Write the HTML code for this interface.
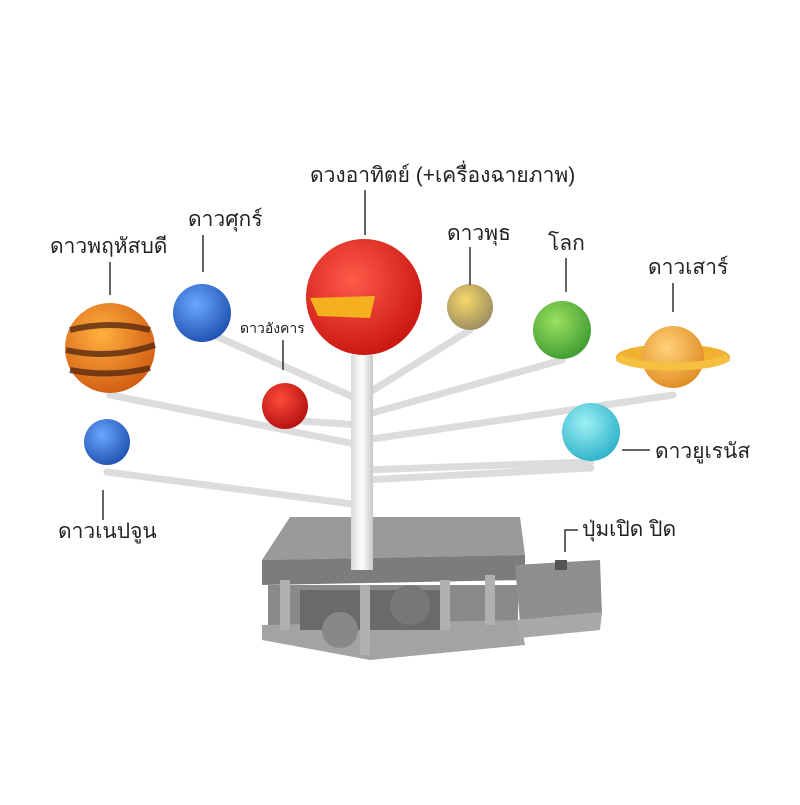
<!DOCTYPE html>
<html><head><meta charset="utf-8"><style>
html,body{margin:0;padding:0;background:#fff;}
svg text{font-family:"Liberation Sans","DejaVu Sans",sans-serif;fill:#222;}
</style></head><body>
<svg width="800" height="800" viewBox="0 0 800 800" xmlns="http://www.w3.org/2000/svg">
<defs>
<radialGradient id="sun" cx="40%" cy="35%" r="70%"><stop offset="0" stop-color="#ff5a4a"/><stop offset="1" stop-color="#c8140e"/></radialGradient>
<radialGradient id="blue" cx="40%" cy="35%" r="70%"><stop offset="0" stop-color="#6aa8ff"/><stop offset="1" stop-color="#1d4fb0"/></radialGradient>
<radialGradient id="red" cx="40%" cy="35%" r="70%"><stop offset="0" stop-color="#ff4a3a"/><stop offset="1" stop-color="#b20f0f"/></radialGradient>
<radialGradient id="merc" cx="40%" cy="35%" r="70%"><stop offset="0" stop-color="#f5d76a"/><stop offset="1" stop-color="#9a8a60"/></radialGradient>
<radialGradient id="earth" cx="40%" cy="35%" r="70%"><stop offset="0" stop-color="#9be060"/><stop offset="1" stop-color="#3c9a30"/></radialGradient>
<radialGradient id="sat" cx="40%" cy="35%" r="70%"><stop offset="0" stop-color="#ffd27a"/><stop offset="1" stop-color="#e08a20"/></radialGradient>
<radialGradient id="ura" cx="40%" cy="35%" r="70%"><stop offset="0" stop-color="#9ef0f5"/><stop offset="1" stop-color="#2ab0c8"/></radialGradient>
<radialGradient id="jup" cx="40%" cy="35%" r="70%"><stop offset="0" stop-color="#ffb040"/><stop offset="1" stop-color="#d05a10"/></radialGradient>
<linearGradient id="rod" x1="0" x2="1"><stop offset="0" stop-color="#d8d8d8"/><stop offset=".5" stop-color="#fff"/><stop offset="1" stop-color="#c8c8c8"/></linearGradient>
</defs>
<!-- base -->
<polygon points="290,517 520,517 525,555 262,560" fill="#9a9a9a"/>
<polygon points="262,560 525,555 525,580 262,585" fill="#7c7c7c"/>
<rect x="268" y="585" width="250" height="50" fill="#8a8a8a"/>
<polygon points="262,625 520,620 525,645 370,660 262,640" fill="#a3a3a3"/>
<rect x="300" y="590" width="140" height="40" fill="#6a6a6a"/>
<circle cx="340" cy="630" r="18" fill="#888"/><circle cx="410" cy="605" r="20" fill="#777"/>
<rect x="280" y="580" width="10" height="50" fill="#b0b0b0"/><rect x="440" y="580" width="10" height="50" fill="#b0b0b0"/>
<rect x="360" y="585" width="10" height="70" fill="#b0b0b0"/><rect x="485" y="575" width="10" height="50" fill="#b0b0b0"/>
<polygon points="515,565 600,560 602,615 520,622" fill="#8e8e8e"/>
<polygon points="515,620 602,612 600,630 520,638" fill="#a8a8a8"/>
<rect x="555" y="560" width="12" height="10" fill="#555"/>
<!-- arms -->
<g stroke="#dcdcdc" stroke-width="7" stroke-linecap="round" fill="none">
<line x1="360" y1="400" x2="202" y2="330"/>
<line x1="360" y1="445" x2="110" y2="395"/>
<line x1="360" y1="425" x2="285" y2="420"/>
<line x1="360" y1="505" x2="107" y2="472"/>
<line x1="365" y1="395" x2="470" y2="330"/>
<line x1="365" y1="415" x2="562" y2="360"/>
<line x1="365" y1="440" x2="673" y2="395"/>
<line x1="365" y1="470" x2="591" y2="462"/>
<line x1="365" y1="480" x2="591" y2="468"/>
</g>
<rect x="351" y="355" width="22" height="215" fill="url(#rod)"/>
<!-- planets -->
<circle cx="110" cy="348" r="45" fill="url(#jup)"/>
<g stroke="#5a2a10" stroke-width="6" fill="none" opacity=".8">
<path d="M70 330 Q110 320 150 330"/><path d="M66 350 Q110 360 155 345"/><path d="M70 370 Q110 378 150 368"/></g>
<circle cx="202" cy="313" r="29" fill="url(#blue)"/>
<circle cx="285" cy="406" r="23" fill="url(#red)"/>
<circle cx="364" cy="297" r="58" fill="url(#sun)"/>
<path d="M310 298 L375 296 L370 318 L318 316 Z" fill="#f5b020"/>
<circle cx="470" cy="307" r="23" fill="url(#merc)"/>
<circle cx="562" cy="330" r="29" fill="url(#earth)"/>
<ellipse cx="673" cy="357" rx="57" ry="13" fill="#f0b030"/>
<circle cx="673" cy="357" r="31" fill="url(#sat)"/>
<path d="M618 357 A57 13 0 0 0 728 357" fill="none" stroke="#f5c040" stroke-width="8"/>
<circle cx="591" cy="432" r="29" fill="url(#ura)"/>
<circle cx="107" cy="442" r="23" fill="url(#blue)"/>
<!-- label lines -->
<g stroke="#333" stroke-width="1.5" fill="none">
<line x1="365" y1="190" x2="365" y2="235"/>
<line x1="110" y1="262" x2="110" y2="295"/>
<line x1="203" y1="235" x2="203" y2="272"/>
<line x1="283" y1="340" x2="283" y2="370"/>
<line x1="470" y1="247" x2="470" y2="285"/>
<line x1="566" y1="258" x2="566" y2="292"/>
<line x1="673" y1="283" x2="673" y2="312"/>
<line x1="622" y1="450" x2="650" y2="450"/>
<line x1="103" y1="490" x2="103" y2="520"/>
<polyline points="565,552 565,530 578,530"/>
</g>
<!-- labels -->
<text x="310" y="182" font-size="21">ดวงอาทิตย์ (+เครื่องฉายภาพ)</text>
<text x="50" y="253" font-size="21">ดาวพฤหัสบดี</text>
<text x="188" y="226" font-size="21">ดาวศุกร์</text>
<text x="240" y="333" font-size="14">ดาวอังคาร</text>
<text x="447" y="240" font-size="21">ดาวพุธ</text>
<text x="548" y="250" font-size="21">โลก</text>
<text x="648" y="274" font-size="21">ดาวเสาร์</text>
<text x="655" y="458" font-size="21">ดาวยูเรนัส</text>
<text x="58" y="538" font-size="21">ดาวเนปจูน</text>
<text x="582" y="536" font-size="21">ปุ่มเปิด ปิด</text>
</svg>
</body></html>
